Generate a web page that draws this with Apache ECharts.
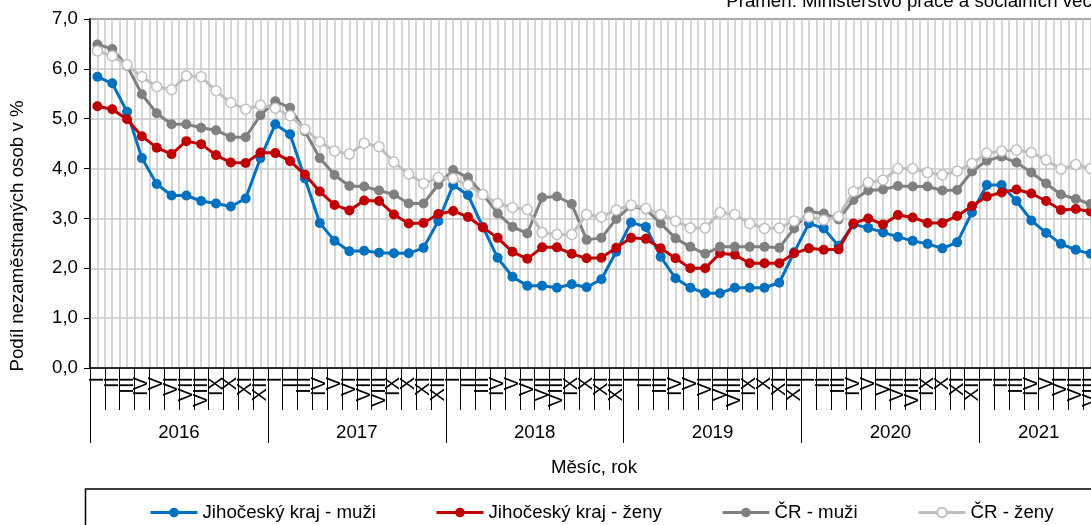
<!DOCTYPE html>
<html><head><meta charset="utf-8">
<script src="https://cdn.jsdelivr.net/npm/echarts@6/dist/echarts.min.js"></script>
<style>html,body{margin:0;padding:0;background:#fff}#c{width:1091px;height:525px}</style>
</head><body><div id="c"></div>
<script>
const monthLabels = ['I','II','III','IV','V','VI','VII','VIII','IX','X','XI','XII'];
const years = ['2016','2017','2018','2019','2020','2021'];
const monthsInYear = [12,12,12,12,12,8];
const seriesNames = ['Jihočeský kraj - muži','Jihočeský kraj - ženy','ČR - muži','ČR - ženy'];

const jcMuzi = [
  5.84,5.71,5.14,4.21,3.69,3.46,3.46,3.35,3.30,3.24,3.40,4.21,
  4.89,4.69,3.80,2.91,2.55,2.34,2.35,2.31,2.30,2.30,2.41,2.95,
  3.67,3.47,2.83,2.21,1.83,1.65,1.65,1.61,1.68,1.62,1.78,2.33,
  2.92,2.83,2.23,1.80,1.61,1.50,1.50,1.61,1.61,1.61,1.71,2.32,
  2.90,2.80,2.45,2.88,2.81,2.72,2.63,2.55,2.49,2.40,2.52,3.12,
  3.67,3.67,3.35,2.96,2.71,2.49,2.37,2.29
];
const jcZeny = [
  5.25,5.19,4.99,4.65,4.42,4.29,4.55,4.49,4.27,4.12,4.11,4.32,
  4.31,4.15,3.88,3.54,3.27,3.16,3.36,3.35,3.08,2.90,2.91,3.09,
  3.15,3.03,2.82,2.61,2.33,2.19,2.42,2.42,2.29,2.20,2.21,2.41,
  2.61,2.59,2.40,2.20,2.00,2.00,2.30,2.27,2.10,2.10,2.10,2.30,
  2.40,2.37,2.38,2.90,3.00,2.88,3.07,3.02,2.91,2.91,3.05,3.25,
  3.44,3.52,3.58,3.50,3.35,3.17,3.19,3.14
];
const crMuzi = [
  6.49,6.40,6.06,5.49,5.11,4.89,4.89,4.82,4.77,4.63,4.63,5.07,
  5.35,5.22,4.75,4.21,3.87,3.65,3.64,3.56,3.48,3.30,3.30,3.68,
  3.97,3.82,3.49,3.10,2.83,2.70,3.42,3.44,3.29,2.57,2.61,2.99,
  3.25,3.18,2.90,2.60,2.43,2.29,2.43,2.43,2.43,2.43,2.41,2.80,
  3.14,3.10,2.98,3.37,3.56,3.58,3.65,3.64,3.64,3.56,3.57,3.94,
  4.16,4.24,4.12,3.92,3.70,3.48,3.39,3.29
];
const crZeny = [
  6.36,6.26,6.08,5.84,5.64,5.58,5.86,5.84,5.56,5.32,5.19,5.27,
  5.21,5.06,4.79,4.54,4.35,4.29,4.51,4.44,4.13,3.89,3.70,3.82,
  3.80,3.67,3.48,3.30,3.22,3.18,2.72,2.68,2.68,3.08,3.03,3.17,
  3.27,3.20,3.08,2.95,2.81,2.81,3.12,3.08,2.90,2.80,2.81,2.95,
  3.03,2.97,3.04,3.54,3.72,3.77,4.00,4.00,3.92,3.87,3.95,4.10,
  4.31,4.35,4.37,4.32,4.17,3.99,4.08,4.00
];

const categories = [];
years.forEach((y,i)=>{ for(let m=0;m<monthsInYear[i];m++) categories.push(monthLabels[m]); });
const N = categories.length;
const yearBounds = [0]; let acc = 0;
monthsInYear.forEach(n=>{ acc += n; yearBounds.push(acc); });
const yearCenters = years.map((y,i)=>(yearBounds[i]+yearBounds[i+1])/2);

const FF = 'Liberation Sans, Arial, sans-serif';
const FS = 18.7;
const colors = ['#0070C0','#C00000','#808080','#BFBFBF'];

const chart = echarts.init(document.getElementById('c'), null, {renderer:'canvas'});

function mkSeries(name, data, i){
  const light = i === 3;
  return {
    name, type:'line', data, xAxisIndex:0, yAxisIndex:0,
    symbol:'circle', symbolSize:10, showSymbol:true,
    lineStyle:{color:colors[i], width:3},
    itemStyle: light ? {color:'#fff', borderColor:colors[i], borderWidth:1.5} : {color:colors[i], borderWidth:0},
    emphasis:{disabled:true}, animation:false, z: 3 + i
  };
}
const legendLefts = [144, 430, 716, 912];

chart.setOption({
  animation:false,
  backgroundColor:'#fff',
  textStyle:{fontFamily:FF},
  grid:{left:90, right:-7, top:19, bottom:157, containLabel:false, outerBoundsMode:'none',
        show:true, borderColor:'#000', borderWidth:1.5, backgroundColor:'transparent'},
  legend: seriesNames.map((n,i)=>({
    data:[n], left:legendLefts[i], top:498, itemWidth:47, itemHeight:12, itemGap:0,
    lineStyle:{width:3},
    selectedMode:false, textStyle:{fontSize:FS, color:'#000', fontFamily:FF}
  })),
  xAxis:[
    { type:'category', data:categories, boundaryGap:true, position:'bottom',
      axisLine:{show:true, lineStyle:{color:'#000', width:1.5}},
      axisTick:{show:true, interval:0, length:42, lineStyle:{color:'#000', width:1}},
      axisLabel:{show:true, interval:0, rotate:90, margin:9, fontSize:20, color:'#000', fontFamily:FF, hideOverlap:false},
      splitLine:{show:false}
    },
    { type:'value', min:0, max:N, interval:0.5, position:'bottom',
      axisLine:{show:false}, axisTick:{show:false}, axisLabel:{show:false},
      splitLine:{show:true, lineStyle:{color:'#C8C8C8', width:1.5}}
    },
    { type:'value', min:0, max:N, position:'bottom',
      name:'Měsíc, rok', nameLocation:'middle', nameGap:90,
      nameTextStyle:{fontSize:FS, color:'#000', fontFamily:FF},
      axisLine:{show:false},
      axisTick:{show:true, length:75, customValues:yearBounds, lineStyle:{color:'#000', width:1}},
      axisLabel:{show:true, customValues:yearCenters, margin:55, fontSize:FS, color:'#000', fontFamily:FF,
                 formatter:(v)=>years[yearCenters.indexOf(v)] || ''},
      splitLine:{show:false}
    }
  ],
  yAxis:{ type:'value', min:0, max:7, interval:1,
    axisLine:{show:true, lineStyle:{color:'#000', width:1.5}},
    axisTick:{show:true, length:6, lineStyle:{color:'#000', width:1}},
    axisLabel:{fontSize:FS, color:'#000', fontFamily:FF, margin:12,
               formatter:(v)=>v.toFixed(1).replace('.',',')},
    splitLine:{show:true, lineStyle:{color:'#C8C8C8', width:1.5}}
  },
  graphic:[
    {type:'rect', shape:{x:85.5, y:489, width:1100, height:60}, style:{fill:'none', stroke:'#000', lineWidth:1.5}, z:10},
    {type:'text', x:18, y:236, rotation:Math.PI/2,
     style:{text:'Podíl nezaměstnaných osob v %', font:FS+'px '+FF, fill:'#000', align:'center', verticalAlign:'middle'}},
    {type:'text', x:1097, y:2,
     style:{text:'Pramen: Ministerstvo práce a sociálních věcí', font:FS+'px '+FF, fill:'#000', align:'right', verticalAlign:'middle'}}
  ],
  series:[
    mkSeries(seriesNames[0], jcMuzi, 0),
    mkSeries(seriesNames[1], jcZeny, 1),
    mkSeries(seriesNames[2], crMuzi, 2),
    mkSeries(seriesNames[3], crZeny, 3)
  ]
});
</script></body></html>
